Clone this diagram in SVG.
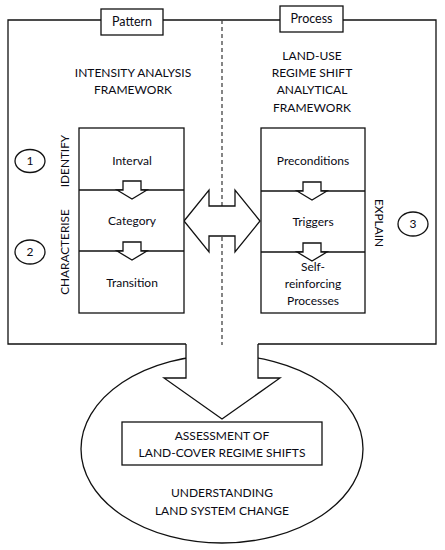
<svg xmlns="http://www.w3.org/2000/svg" width="445" height="550" viewBox="0 0 445 550">
<style>
.ln{fill:none;stroke:#111;stroke-width:1.3}
.bx{fill:#fff;stroke:#111;stroke-width:1.3}
.wf{fill:#fff;stroke:none}
text{font-family:Lato,"Open Sans","Liberation Sans",sans-serif;font-size:12px;fill:#0a0a14;text-anchor:middle}
.v{font-size:11.8px}
.lab{font-size:12.5px}
</style>
<rect width="445" height="550" fill="#fff"/>
<g id="ellipse-node">
<ellipse cx="222" cy="449" rx="141" ry="94" class="ln"/>
<text x="222" y="497">UNDERSTANDING</text>
<text x="222" y="515">LAND SYSTEM CHANGE</text>
</g>
<g id="connectors">
<path class="wf" d="M186,343 L186,378 L164,378 L222,419 L280,378 L258,378 L258,343 Z"/>
<path class="ln" d="M186,344 L8,344 L8,20 L436,20 L436,344 L258,344"/>
<path class="ln" d="M186,344 L186,378 L164,378 L222,419 L280,378 L258,378 L258,344"/>
<line x1="222" y1="20" x2="222" y2="345" stroke="#444" stroke-width="1.3" stroke-dasharray="4 3"/>
<polygon class="bx" points="184,221 209,190 209,206 235,206 235,190 260,221 235,252 235,236 209,236 209,252"/>
</g>
<g id="pattern">
<rect x="101" y="9" width="62" height="26" class="bx"/>
<text class="lab" x="132" y="26">Pattern</text>
</g>
<g id="process">
<rect x="280" y="6" width="63" height="26" class="bx"/>
<text class="lab" x="311.5" y="23">Process</text>
</g>
<g id="intensity-title">
<text x="133" y="77">INTENSITY ANALYSIS</text>
<text x="133" y="94">FRAMEWORK</text>
</g>
<g id="regime-title">
<text x="312" y="60">LAND-USE</text>
<text x="312" y="77">REGIME SHIFT</text>
<text x="312" y="94">ANALYTICAL</text>
<text x="312" y="112">FRAMEWORK</text>
</g>
<g id="left-column">
<rect x="79" y="128" width="105" height="185" class="bx"/>
<line x1="79" y1="190" x2="184" y2="190" class="ln"/>
<line x1="79" y1="251" x2="184" y2="251" class="ln"/>
<polygon class="bx" points="123,181 141,181 141,190 147,190 132,199 117,190 123,190"/>
<polygon class="bx" points="123,242 141,242 141,251 147,251 132,260 117,251 123,251"/>
<text x="132" y="165">Interval</text>
<text x="132" y="225">Category</text>
<text x="132" y="287">Transition</text>
</g>
<g id="right-column">
<rect x="261" y="128" width="104" height="185" class="bx"/>
<line x1="261" y1="191" x2="365" y2="191" class="ln"/>
<line x1="261" y1="252" x2="365" y2="252" class="ln"/>
<polygon class="bx" points="303,182 321,182 321,191 327,191 312,200 297,191 303,191"/>
<polygon class="bx" points="303,243 321,243 321,252 327,252 312,261 297,252 303,252"/>
<text x="313" y="165">Preconditions</text>
<text x="313" y="226">Triggers</text>
<text x="313" y="271">Self-</text>
<text x="313" y="288">reinforcing</text>
<text x="313" y="305">Processes</text>
</g>
<g id="identify">
<ellipse cx="30" cy="161" rx="15" ry="11.5" class="ln"/>
<text x="30" y="165">1</text>
<text class="v" transform="translate(69,161) rotate(-90)">IDENTIFY</text>
</g>
<g id="characterise">
<ellipse cx="30" cy="252" rx="15" ry="12" class="ln"/>
<text x="30" y="256">2</text>
<text class="v" transform="translate(69,252) rotate(-90)">CHARACTERISE</text>
</g>
<g id="explain">
<ellipse cx="413" cy="224" rx="15" ry="12" class="ln"/>
<text x="413" y="228">3</text>
<text class="v" transform="translate(375,223) rotate(90)">EXPLAIN</text>
</g>
<g id="assessment">
<rect x="122" y="422" width="200" height="43" class="bx"/>
<text x="222" y="440">ASSESSMENT OF</text>
<text x="222" y="457">LAND-COVER REGIME SHIFTS</text>
</g>
</svg>
